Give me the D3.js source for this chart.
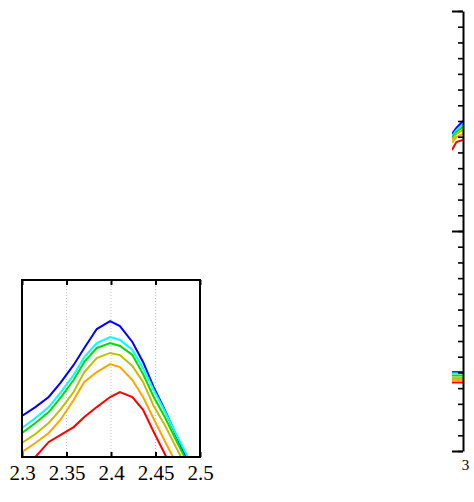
<!DOCTYPE html>
<html>
<head>
<meta charset="utf-8">
<script src="https://cdnjs.cloudflare.com/ajax/libs/d3/7.8.5/d3.min.js"></script>
<style>
  html, body { margin: 0; padding: 0; background: #fff; }
  svg { display: block; }
  text { font-family: "Liberation Serif", "DejaVu Serif", serif; fill: #000; }
</style>
</head>
<body>
<div id="chart"></div>
<script>
;(function (window, document, undefined) {

  'use strict';

  // inset (zoomed view) data
  var insetX      = [2.300, 2.315, 2.330, 2.343, 2.358, 2.370, 2.384, 2.399, 2.410, 2.424, 2.436, 2.448, 2.461, 2.473, 2.485, 2.498];
  var insetBlue   = [0.232, 0.282, 0.339, 0.418, 0.520, 0.616, 0.723, 0.768, 0.740, 0.650, 0.537, 0.395, 0.260, 0.124, -0.006, -0.141];
  var insetCyan   = [0.164, 0.220, 0.282, 0.362, 0.463, 0.565, 0.644, 0.678, 0.661, 0.605, 0.503, 0.379, 0.254, 0.130, 0.011, -0.107];
  var insetGreen  = [0.136, 0.192, 0.254, 0.333, 0.435, 0.537, 0.616, 0.644, 0.627, 0.576, 0.469, 0.339, 0.220, 0.096, -0.023, -0.147];
  var insetOlive  = [0.079, 0.130, 0.192, 0.266, 0.367, 0.480, 0.559, 0.588, 0.576, 0.514, 0.424, 0.288, 0.175, 0.056, -0.062, -0.175];
  var insetOrange = [0.028, 0.079, 0.136, 0.209, 0.322, 0.424, 0.480, 0.525, 0.508, 0.435, 0.339, 0.215, 0.085, -0.034, -0.153, -0.271];
  var insetRed    = [-0.073, 0.000, 0.085, 0.124, 0.169, 0.226, 0.282, 0.339, 0.367, 0.339, 0.266, 0.141, 0.011, -0.113, -0.237, -0.362];
  var insetXTicks = [2.3, 2.35, 2.4, 2.45, 2.5];

  // main plot data (only the right edge is visible)
  var mainX            = [2.95, 2.97, 3.0];
  var mainUpperBlue    = [1.009, 1.028, 1.050];
  var mainUpperCyan    = [1.002, 1.021, 1.040];
  var mainUpperGreen   = [0.996, 1.015, 1.031];
  var mainUpperOlive   = [0.990, 1.009, 1.021];
  var mainUpperOrange  = [0.980, 0.999, 1.009];
  var mainUpperRed     = [0.958, 0.983, 0.990];
  var mainLowerBlue    = [0.251, 0.251, 0.251];
  var mainLowerCyan    = [0.247, 0.247, 0.247];
  var mainLowerGreen   = [0.240, 0.240, 0.240];
  var mainLowerOlive   = [0.232, 0.232, 0.232];
  var mainLowerOrange  = [0.226, 0.226, 0.226];
  var mainLowerRed     = [0.218, 0.218, 0.218];
  var mainXTicks       = [3];
  var mainYMajor       = [0, 0.7, 1.4];

  var colors = ['#0000ff', '#00ffff', '#00e000', '#bfbf00', '#ffa500', '#ff0000'];

  var svg = d3.select('#chart').append('svg')
    .attr('width', 474)
    .attr('height', 502);

  var defs = svg.append('defs');

  // ---- main plot ----
  var mx = d3.scaleLinear().domain([2.95, 3]).range([452, 463]);
  var my = d3.scaleLinear().domain([0, 1.4]).range([451, 11]);

  defs.append('clipPath').attr('id', 'mainClip')
    .append('rect')
    .attr('x', 452).attr('y', 11)
    .attr('width', 11).attr('height', 440);

  var mainLine = d3.line()
    .x(function (d, i) { return mx(mainX[i]); })
    .y(function (d) { return my(d); });

  var mainSeries = [
    mainUpperBlue, mainUpperCyan, mainUpperGreen, mainUpperOlive, mainUpperOrange, mainUpperRed,
    mainLowerBlue, mainLowerCyan, mainLowerGreen, mainLowerOlive, mainLowerOrange, mainLowerRed
  ];

  svg.append('g')
    .attr('clip-path', 'url(#mainClip)')
    .selectAll('path')
    .data(mainSeries)
    .enter().append('path')
    .attr('d', mainLine)
    .attr('fill', 'none')
    .attr('stroke', function (d, i) { return colors[i % 6]; })
    .attr('stroke-width', 2);

  var minorAxis = d3.axisLeft(my)
    .tickValues(d3.range(0, 28.5, 1).map(function (k) { return k * 0.05; }))
    .tickSizeInner(5)
    .tickSizeOuter(0)
    .tickFormat('');

  var majorAxis = d3.axisLeft(my)
    .tickValues(mainYMajor)
    .tickSizeInner(11)
    .tickSizeOuter(0)
    .tickFormat('');

  var gMinor = svg.append('g').attr('transform', 'translate(463,0)').call(minorAxis);
  var gMajor = svg.append('g').attr('transform', 'translate(463,0)').call(majorAxis);
  gMinor.selectAll('line').attr('stroke', '#000').attr('stroke-width', 1.6);
  gMajor.selectAll('line').attr('stroke', '#000').attr('stroke-width', 2);
  gMinor.select('.domain').remove();
  gMajor.select('.domain').attr('stroke', '#000').attr('stroke-width', 2);

  var mainXAxis = d3.axisBottom(mx)
    .tickValues(mainXTicks)
    .tickSize(0)
    .tickPadding(8)
    .tickFormat(d3.format('d'));

  var gMainX = svg.append('g').attr('transform', 'translate(0,451)').call(mainXAxis);
  gMainX.select('.domain').remove();
  gMainX.selectAll('text')
    .attr('dx', 2)
    .style('font-family', '"Liberation Serif", serif')
    .style('font-size', '15px');

  // ---- inset ----
  var ix = d3.scaleLinear().domain([2.3, 2.5]).range([22, 200]);
  var iy = d3.scaleLinear().domain([0, 1]).range([457, 280]);

  svg.append('rect')
    .attr('x', 22).attr('y', 280)
    .attr('width', 178).attr('height', 177)
    .attr('fill', '#fff');

  svg.append('g')
    .selectAll('line')
    .data(insetXTicks.slice(1, -1))
    .enter().append('line')
    .attr('x1', function (d) { return ix(d); })
    .attr('x2', function (d) { return ix(d); })
    .attr('y1', 280).attr('y2', 457)
    .attr('stroke', '#c4c4c4')
    .attr('stroke-width', 1)
    .attr('stroke-dasharray', '1,2');

  defs.append('clipPath').attr('id', 'insetClip')
    .append('rect')
    .attr('x', 22).attr('y', 280)
    .attr('width', 178).attr('height', 177);

  var insetLine = d3.line()
    .x(function (d, i) { return ix(insetX[i]); })
    .y(function (d) { return iy(d); });

  var insetSeries = [insetBlue, insetCyan, insetGreen, insetOlive, insetOrange, insetRed];

  svg.append('g')
    .attr('clip-path', 'url(#insetClip)')
    .selectAll('path')
    .data(insetSeries)
    .enter().append('path')
    .attr('d', insetLine)
    .attr('fill', 'none')
    .attr('stroke', function (d, i) { return colors[i]; })
    .attr('stroke-width', 2);

  var insetBottom = d3.axisBottom(ix)
    .tickValues(insetXTicks)
    .tickSizeInner(-5)
    .tickSizeOuter(0)
    .tickPadding(8)
    .tickFormat(function (d) { return String(d); });

  var insetTop = d3.axisTop(ix)
    .tickValues(insetXTicks)
    .tickSizeInner(-5)
    .tickSizeOuter(0)
    .tickFormat('');

  var gIB = svg.append('g').attr('transform', 'translate(0,457)').call(insetBottom);
  var gIT = svg.append('g').attr('transform', 'translate(0,280)').call(insetTop);
  [gIB, gIT].forEach(function (g) {
    g.select('.domain').remove();
    g.selectAll('line').attr('stroke', '#000').attr('stroke-width', 2);
  });
  gIB.selectAll('text')
    .style('font-family', '"Liberation Serif", serif')
    .style('font-size', '21px');

  svg.append('rect')
    .attr('x', 22).attr('y', 280)
    .attr('width', 178).attr('height', 177)
    .attr('fill', 'none')
    .attr('stroke', '#000')
    .attr('stroke-width', 2);

})(window, document);
</script>
</body>
</html>
